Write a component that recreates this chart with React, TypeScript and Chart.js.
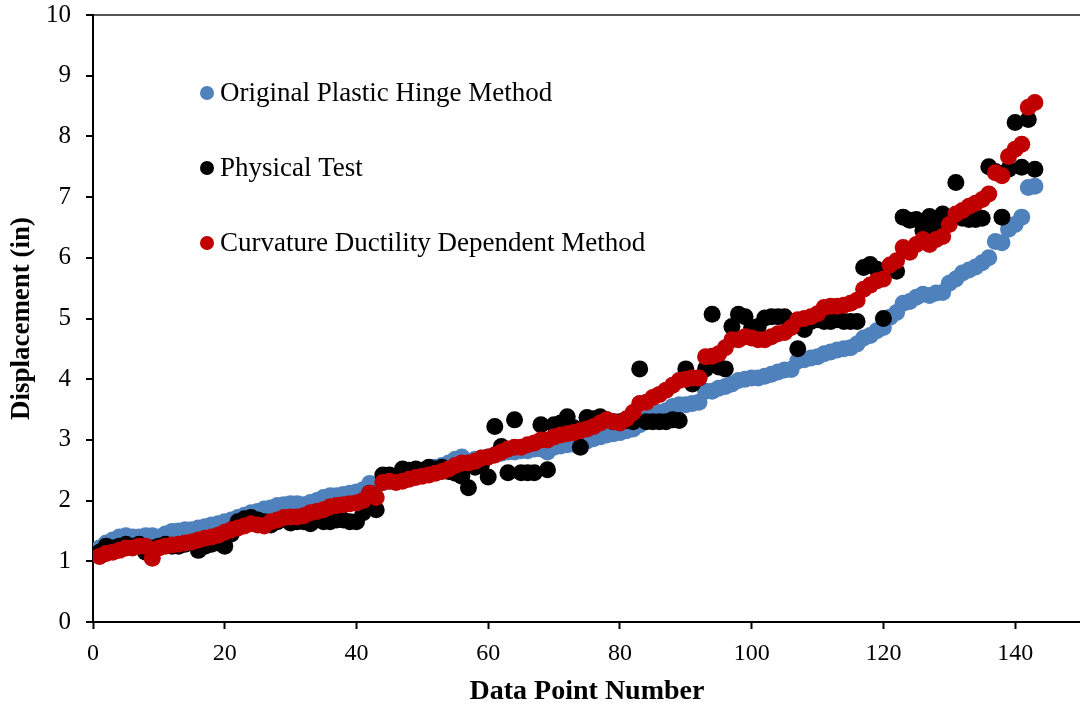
import React, { useEffect, useRef } from 'react';
import { Chart, registerables } from 'chart.js';

Chart.register(...registerables);

const seriesNames = [
  'Original Plastic Hinge Method',
  'Physical Test',
  'Curvature Ductility Dependent Method',
];
const seriesColors = ['#4F81BD', '#000000', '#C00000'];

const xTickValues = [0, 20, 40, 60, 80, 100, 120, 140];
const yTickValues = [0, 1, 2, 3, 4, 5, 6, 7, 8, 9, 10];

const originalHinge = [
  1.22, 1.30, 1.35, 1.40, 1.42, 1.40, 1.40, 1.42, 1.42, 1.40,
  1.45, 1.49, 1.50, 1.52, 1.52, 1.55, 1.57, 1.60, 1.62, 1.65,
  1.68, 1.72, 1.76, 1.80, 1.82, 1.86, 1.88, 1.92, 1.93, 1.95,
  1.95, 1.93, 1.97, 2.00, 2.05, 2.08, 2.08, 2.10, 2.12, 2.14,
  2.18, 2.28, 2.25, 2.30, 2.32, 2.35, 2.38, 2.42, 2.45, 2.48,
  2.52, 2.55, 2.58, 2.62, 2.68, 2.72, 2.65, 2.68, 2.70, 2.72,
  2.75, 2.78, 2.80, 2.80, 2.82, 2.82, 2.85, 2.85, 2.80, 2.88,
  2.90, 2.92, 2.93, 2.95, 2.98, 3.02, 3.05, 3.08, 3.10, 3.12,
  3.15, 3.18, 3.25, 3.35, 3.40, 3.45, 3.48, 3.55, 3.58, 3.58,
  3.60, 3.62, 3.80, 3.80, 3.85, 3.88, 3.92, 3.98, 4.00, 4.02,
  4.02, 4.05, 4.08, 4.12, 4.15, 4.16, 4.30, 4.32, 4.35, 4.37,
  4.42, 4.45, 4.48, 4.50, 4.52, 4.58, 4.68, 4.72, 4.80, 4.85,
  5.02, 5.10, 5.25, 5.28, 5.35, 5.40, 5.38, 5.42, 5.43, 5.58,
  5.65, 5.75, 5.80, 5.85, 5.92, 6.00, 6.27, 6.25, 6.47, 6.55,
  6.67, 7.16, 7.18,
];

const physicalTest = [
  1.15, 1.25, 1.22, 1.25, 1.28, 1.25, 1.28, 1.15, 1.22, 1.25,
  1.28, 1.25, 1.25, 1.28, 1.30, 1.18, 1.25, 1.28, 1.30, 1.25,
  1.45, 1.65, 1.70, 1.72, 1.68, 1.65, 1.60, 1.65, 1.70, 1.63,
  1.65, 1.65, 1.62, 1.68, 1.65, 1.65, 1.68, 1.68, 1.65, 1.65,
  1.80, 2.12, 1.85, 2.42, 2.42, 2.40, 2.52, 2.50, 2.52, 2.50,
  2.55, 2.52, 2.55, 2.48, 2.45, 2.40, 2.21, 2.55, 2.60, 2.39,
  3.22, 2.89, 2.46, 3.33, 2.46, 2.46, 2.46, 3.25, 2.51, 3.25,
  3.28, 3.38, 3.20, 2.88, 3.37, 3.35, 3.38, 3.33, 3.30, 3.30,
  3.32, 3.30, 4.17, 3.30, 3.30, 3.30, 3.30, 3.33, 3.32, 4.17,
  3.92, 4.02, 4.17, 5.07, 4.20, 4.17, 4.87, 5.07, 5.03, 4.85,
  4.87, 5.01, 5.03, 5.03, 5.03, 4.95, 4.50, 4.82, 4.95, 4.98,
  4.95, 4.95, 4.98, 4.95, 4.95, 4.95, 5.84, 5.89, 5.81, 5.00,
  5.85, 5.78, 6.67, 6.62, 6.63, 6.45, 6.68, 6.52, 6.72, 6.60,
  7.24, 6.65, 6.63, 6.63, 6.65, 7.50, 7.42, 6.67, 7.46, 8.23,
  7.49, 8.28, 7.46,
];

const curvatureDuctility = [
  1.08, 1.13, 1.15, 1.18, 1.22, 1.22, 1.25, 1.25, 1.05, 1.22,
  1.25, 1.27, 1.28, 1.30, 1.32, 1.35, 1.38, 1.40, 1.43, 1.48,
  1.52, 1.55, 1.58, 1.62, 1.60, 1.58, 1.65, 1.68, 1.72, 1.73,
  1.73, 1.75, 1.80, 1.82, 1.85, 1.90, 1.92, 1.93, 1.95, 1.96,
  2.00, 2.12, 2.05, 2.30, 2.32, 2.30, 2.32, 2.35, 2.38, 2.40,
  2.42, 2.45, 2.48, 2.52, 2.58, 2.62, 2.62, 2.65, 2.70, 2.72,
  2.75, 2.80, 2.85, 2.88, 2.88, 2.92, 2.95, 3.00, 3.00, 3.05,
  3.08, 3.10, 3.12, 3.15, 3.18, 3.22, 3.28, 3.33, 3.30, 3.28,
  3.35, 3.45, 3.60, 3.62, 3.70, 3.75, 3.82, 3.90, 3.98, 4.00,
  4.02, 4.02, 4.37, 4.38, 4.42, 4.52, 4.65, 4.65, 4.70, 4.68,
  4.65, 4.65, 4.70, 4.75, 4.77, 4.85, 4.98, 5.00, 5.03, 5.08,
  5.18, 5.20, 5.20, 5.22, 5.25, 5.30, 5.48, 5.55, 5.62, 5.65,
  5.88, 5.95, 6.17, 6.09, 6.22, 6.30, 6.22, 6.30, 6.35, 6.55,
  6.72, 6.78, 6.85, 6.90, 6.96, 7.05, 7.40, 7.35, 7.67, 7.79,
  7.87, 8.48, 8.56,
];

const FONT = "'Liberation Serif', 'Times New Roman', serif";

const legendPlugin = {
  id: 'insideLegend',
  afterDatasetsDraw(chart: any) {
    const ctx = chart.ctx;
    const area = chart.chartArea;
    ctx.save();
    ctx.font = `27px ${FONT}`;
    ctx.textBaseline = 'middle';
    ctx.textAlign = 'left';
    seriesNames.forEach((name, i) => {
      const cx = area.left + 114;
      const cy = area.top + 78 + i * 75;
      ctx.beginPath();
      ctx.arc(cx, cy, 7, 0, Math.PI * 2);
      ctx.fillStyle = seriesColors[i];
      ctx.fill();
      ctx.fillStyle = '#000';
      ctx.fillText(name, cx + 13, cy + 1);
    });
    ctx.restore();
  },
};

export default function App() {
  const ref = useRef<HTMLCanvasElement>(null);

  useEffect(() => {
    const toPts = (vals: number[]) => vals.map((v, i) => ({ x: i + 1, y: v }));
    const valueSets = [originalHinge, physicalTest, curvatureDuctility];
    const orders = [3, 2, 1];
    const chart = new Chart(ref.current as HTMLCanvasElement, {
      type: 'scatter',
      data: {
        datasets: valueSets.map((vals, i) => ({
          label: seriesNames[i],
          data: toPts(vals),
          backgroundColor: seriesColors[i],
          borderColor: seriesColors[i],
          borderWidth: 0,
          pointRadius: 8.5,
          pointHoverRadius: 8.5,
          order: orders[i],
        })),
      },
      options: {
        animation: false,
        responsive: false,
        layout: { padding: { top: 15, right: 9, left: 0, bottom: 0 } },
        plugins: {
          legend: { display: false },
          tooltip: { enabled: false },
        },
        scales: {
          x: {
            type: 'linear',
            min: 0,
            max: 150,
            position: 'bottom',
            afterFit: (s: any) => { s.height = 89; s.paddingLeft = 0; s.paddingRight = 0; },
            afterBuildTicks: (s: any) => { s.ticks = xTickValues.map((v) => ({ value: v })); },
            ticks: {
              color: '#000',
              font: { family: FONT, size: 24 },
              padding: 10,
              maxRotation: 0,
              includeBounds: false,
            },
            grid: {
              drawOnChartArea: false,
              drawTicks: true,
              tickLength: 7,
              tickColor: '#000',
              tickWidth: 2,
            },
            border: { color: '#000', width: 2 },
            title: {
              display: true,
              text: 'Data Point Number',
              color: '#000',
              font: { family: FONT, size: 28, weight: 'bold' },
              padding: { top: 0, bottom: 2 },
            },
          },
          y: {
            type: 'linear',
            min: 0,
            max: 10,
            afterFit: (s: any) => { s.width = 93; s.paddingTop = 0; s.paddingBottom = 0; },
            afterBuildTicks: (s: any) => { s.ticks = yTickValues.map((v) => ({ value: v })); },
            ticks: {
              color: '#000',
              font: { family: FONT, size: 25 },
              padding: 15,
            },
            grid: {
              drawOnChartArea: true,
              color: (c: any) => (c.tick && c.tick.value === 10 ? '#555' : 'rgba(0,0,0,0)'),
              lineWidth: 2,
              tickLength: 7,
              tickColor: '#000',
              tickWidth: 2,
            },
            border: { color: '#000', width: 2 },
            title: {
              display: true,
              text: 'Displacement (in)',
              color: '#000',
              font: { family: FONT, size: 27, weight: 'bold' },
              padding: { top: 6, bottom: 0 },
            },
          },
        },
      },
      plugins: [legendPlugin],
    } as any);
    return () => chart.destroy();
  }, []);

  return (
    <div style={{ position: 'fixed', left: 0, top: 0, width: 1090, height: 711, background: '#fff' }}>
      <canvas ref={ref} width={1090} height={711} style={{ display: 'block' }} />
    </div>
  );
}
